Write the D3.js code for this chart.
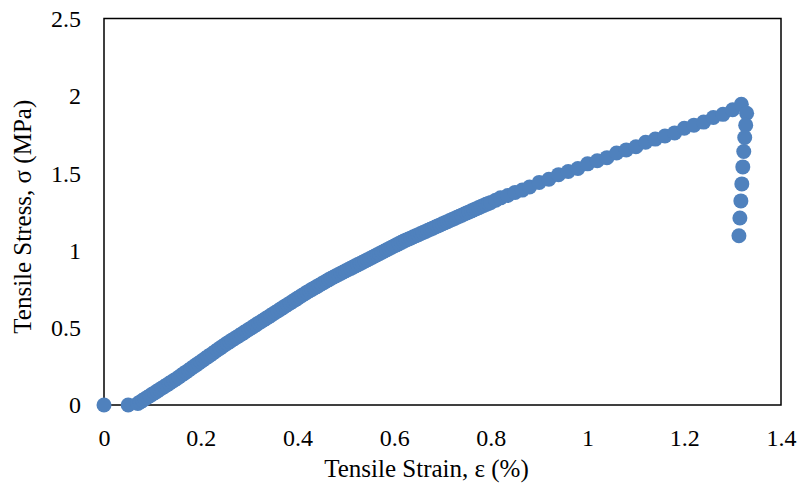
<!DOCTYPE html>
<html>
<head>
<meta charset="utf-8">
<script src="https://cdn.jsdelivr.net/npm/d3@7"></script>
<style>
  html, body { margin: 0; padding: 0; background: #fff; }
  svg text { font-family: "Liberation Serif", "Times New Roman", serif; fill: #000; }
</style>
</head>
<body>
<svg id="chart" width="801" height="493"></svg>
<script>
// Tensile strain (%) values
const strain = [
  0.000, 0.050,
  0.070, 0.075, 0.080, 0.085, 0.090, 0.095, 0.100, 0.105, 0.110, 0.115,
  0.120, 0.125, 0.130, 0.135, 0.140, 0.145, 0.150, 0.155, 0.160, 0.165,
  0.170, 0.175, 0.180, 0.185, 0.190, 0.195, 0.200, 0.205, 0.210, 0.215,
  0.220, 0.225, 0.230, 0.235, 0.240, 0.245, 0.250, 0.255, 0.260, 0.265,
  0.270, 0.275, 0.280, 0.285, 0.290, 0.295, 0.300, 0.305, 0.310, 0.315,
  0.320, 0.325, 0.330, 0.335, 0.340, 0.345, 0.350, 0.355, 0.360, 0.365,
  0.370, 0.375, 0.380, 0.385, 0.390, 0.395, 0.400, 0.405, 0.410, 0.415,
  0.420, 0.425, 0.430, 0.435, 0.440, 0.445, 0.450, 0.455, 0.460, 0.465,
  0.470, 0.475, 0.480, 0.485, 0.490, 0.495, 0.500, 0.505, 0.510, 0.515,
  0.520, 0.525, 0.530, 0.535, 0.540, 0.545, 0.550, 0.555, 0.560, 0.565,
  0.570, 0.575, 0.580, 0.585, 0.590, 0.595, 0.600, 0.605, 0.610, 0.615,
  0.620, 0.625, 0.630, 0.635, 0.640, 0.645, 0.650, 0.655, 0.660, 0.665,
  0.670, 0.675, 0.680, 0.685, 0.690, 0.695, 0.700, 0.705, 0.710, 0.715,
  0.720, 0.725, 0.730, 0.735, 0.740, 0.745, 0.750, 0.755, 0.760, 0.765,
  0.770, 0.775, 0.780, 0.785, 0.790, 0.795, 0.800,
  0.810, 0.820, 0.835, 0.850, 0.865, 0.880, 0.900, 0.920, 0.940, 0.960,
  0.980, 1.000, 1.020, 1.040, 1.060, 1.080, 1.100, 1.120, 1.140, 1.160,
  1.180, 1.200, 1.220, 1.240, 1.260, 1.280, 1.300, 1.318,
  1.329, 1.327, 1.325, 1.323, 1.321, 1.319, 1.317, 1.315, 1.313
];
// Tensile stress (MPa) values
const stress = [
  0.000, 0.000,
  0.010, 0.020, 0.030, 0.040, 0.050, 0.060, 0.070, 0.080, 0.090, 0.100,
  0.110, 0.120, 0.130, 0.140, 0.150, 0.160, 0.170, 0.181, 0.192, 0.203,
  0.214, 0.225, 0.236, 0.247, 0.258, 0.269, 0.280, 0.291, 0.302, 0.313,
  0.324, 0.335, 0.346, 0.357, 0.368, 0.379, 0.390, 0.400, 0.410, 0.420,
  0.430, 0.440, 0.450, 0.460, 0.470, 0.480, 0.490, 0.500, 0.510, 0.520,
  0.530, 0.540, 0.550, 0.560, 0.570, 0.580, 0.590, 0.600, 0.610, 0.620,
  0.630, 0.640, 0.650, 0.660, 0.670, 0.680, 0.690, 0.700, 0.710, 0.720,
  0.730, 0.739, 0.748, 0.757, 0.766, 0.775, 0.784, 0.793, 0.802, 0.811,
  0.820, 0.828, 0.836, 0.844, 0.852, 0.860, 0.868, 0.876, 0.884, 0.892,
  0.900, 0.908, 0.916, 0.924, 0.932, 0.940, 0.948, 0.956, 0.964, 0.972,
  0.980, 0.988, 0.996, 1.004, 1.012, 1.020, 1.028, 1.036, 1.044, 1.052,
  1.060, 1.067, 1.074, 1.081, 1.088, 1.095, 1.102, 1.109, 1.116, 1.123,
  1.130, 1.137, 1.144, 1.151, 1.158, 1.165, 1.172, 1.179, 1.186, 1.193,
  1.200, 1.207, 1.214, 1.221, 1.228, 1.235, 1.242, 1.249, 1.256, 1.263,
  1.270, 1.277, 1.284, 1.291, 1.298, 1.304, 1.310,
  1.325, 1.340, 1.355, 1.375, 1.390, 1.410, 1.440, 1.460, 1.490, 1.510,
  1.530, 1.560, 1.580, 1.600, 1.630, 1.650, 1.670, 1.700, 1.720, 1.740,
  1.760, 1.790, 1.810, 1.830, 1.860, 1.880, 1.910, 1.945,
  1.887, 1.810, 1.730, 1.640, 1.540, 1.430, 1.320, 1.210, 1.095
];
const xTicks = [0, 0.2, 0.4, 0.6, 0.8, 1, 1.2, 1.4];
const yTicks = [0, 0.5, 1, 1.5, 2, 2.5];
const xTitle = "Tensile Strain, ε (%)";
const yTitle = "Tensile Stress, σ (MPa)";

const svg = d3.select("#chart");
const plot = { left: 104, right: 781, top: 18.5, bottom: 405 };

const x = d3.scaleLinear().domain([0, 1.4]).range([plot.left, plot.right]);
const y = d3.scaleLinear().domain([0, 2.5]).range([plot.bottom, plot.top]);

const data = strain.map((s, i) => ({ s, v: stress[i] }));

// plot border
svg.append("rect")
  .attr("x", plot.left).attr("y", plot.top)
  .attr("width", plot.right - plot.left).attr("height", plot.bottom - plot.top)
  .attr("fill", "none").attr("stroke", "#000").attr("stroke-width", 1.5);

// markers
svg.append("g").selectAll("circle").data(data).join("circle")
  .attr("cx", d => x(d.s)).attr("cy", d => y(d.v))
  .attr("r", 7.5).attr("fill", "#4F81BD");

// x axis
const xAxis = d3.axisBottom(x).tickValues(xTicks).tickSize(0).tickPadding(0)
  .tickFormat(d3.format("~g"));
const gx = svg.append("g").attr("transform", `translate(0,${plot.bottom})`).call(xAxis);
gx.select(".domain").remove();
gx.selectAll("text").attr("font-size", 24).attr("dy", null).attr("y", 41)
  .style("font-family", '"Liberation Serif", serif').attr("fill", "#000");

// y axis
const yAxis = d3.axisLeft(y).tickValues(yTicks).tickSize(0).tickPadding(0)
  .tickFormat(d3.format("~g"));
const gy = svg.append("g").attr("transform", `translate(${plot.left},0)`).call(yAxis);
gy.select(".domain").remove();
gy.selectAll("text").attr("font-size", 24).attr("x", -23).attr("dy", "0.33em")
  .style("font-family", '"Liberation Serif", serif').attr("fill", "#000");

// titles
svg.append("text").attr("x", (plot.left + plot.right) / 2 - 16).attr("y", 477)
  .attr("text-anchor", "middle").attr("font-size", 25).text(xTitle);
svg.append("text")
  .attr("transform", `translate(31,${(plot.top + plot.bottom) / 2 + 5}) rotate(-90)`)
  .attr("text-anchor", "middle").attr("font-size", 25).text(yTitle);
</script>
</body>
</html>
